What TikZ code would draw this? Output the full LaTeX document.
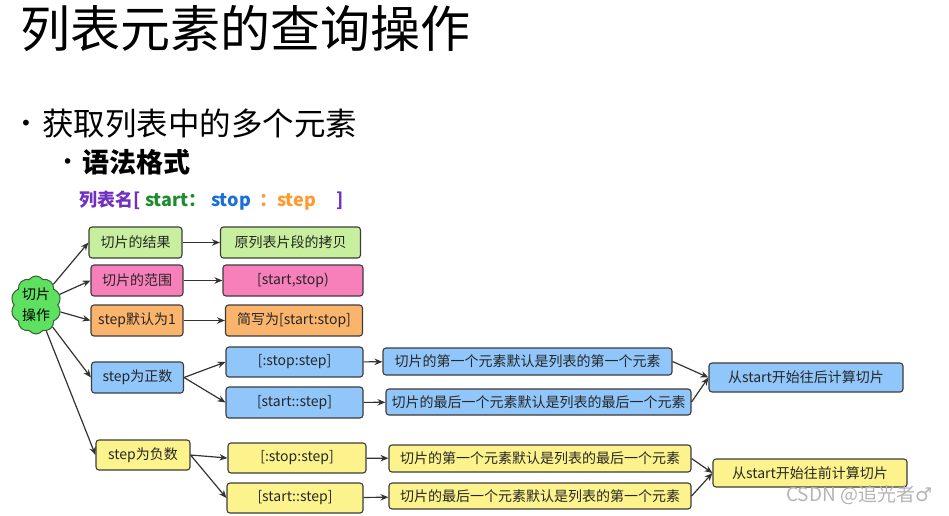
\documentclass[tikz,border=0pt]{standalone}
\usepackage{fontspec}
\setmainfont{Noto Sans CJK SC}
\newfontfamily\symfont{DejaVu Sans}
\usetikzlibrary{arrows.meta,shapes.symbols}
\definecolor{cgreen}{HTML}{C8EF9E}
\definecolor{cpink}{HTML}{F77FBA}
\definecolor{corange}{HTML}{FBB46C}
\definecolor{cblue}{HTML}{90C6FA}
\definecolor{cyellow}{HTML}{FDF38C}
\definecolor{ccloud}{HTML}{5EE060}
\definecolor{edge}{HTML}{3C3C3C}
\definecolor{tpurple}{HTML}{7030C0}
\definecolor{tgreen}{HTML}{1E8C2E}
\definecolor{tblue}{HTML}{1A6FD4}
\definecolor{torange}{HTML}{FF9A30}
\definecolor{wm}{HTML}{B4B4B4}
\tikzset{
  box/.style={draw=edge, line width=1.1pt, rounded corners=3pt, inner sep=0pt,
    font=\fontsize{14}{16}\selectfont, text=black!85},
  arr/.style={draw=black!80, line width=1.2pt, -{Stealth[length=8pt,width=6.5pt]}},
  txt/.style={inner sep=0pt, anchor=west},
  syn/.style={inner sep=0pt, anchor=base west, font=\fontsize{18}{20}\selectfont\bfseries}
}
\begin{document}
\begin{tikzpicture}[x=1pt,y=-1pt]
\useasboundingbox (0,0) rectangle (949,515);
% headings
\node[txt] (title) at (20,29) {\fontsize{50}{56}\selectfont 列表元素的查询操作};
\node[txt] (b1) at (20,125) {\fontsize{20}{24}\selectfont\symfont •};
\node[txt] (l1) at (42,124) {\fontsize{31.5}{36}\selectfont 获取列表中的多个元素};
\node[txt] (b2) at (62,164) {\fontsize{19}{22}\selectfont\symfont •};
\node[txt] (l2) at (82,162) {\fontsize{27}{32}\selectfont\bfseries 语法格式};
\node[syn, text=tpurple] (s1) at (79,206) {列表名[};
\node[syn, text=tgreen] (s2) at (145,206) {start：};
\node[syn, text=tblue] (s3) at (211,206) {stop};
\node[syn, text=torange] (s4) at (259,206) {：step};
\node[syn, text=tpurple] (s5) at (336,206) {]};
% cloud
\node[cloud, cloud puffs=10, cloud puff arc=110, aspect=0.85, draw=edge!80!green, line width=1pt,
  fill=ccloud, minimum width=50pt, minimum height=58pt, inner sep=0pt,
  align=center, font=\fontsize{14}{21}\selectfont] (cl) at (36,305) {切片\\操作};
% first three rows
\node[box, fill=cgreen, minimum width=93pt, minimum height=31pt] (r1) at (135.5,242.5) {切片的结果};
\node[box, fill=cgreen, minimum width=140pt, minimum height=31pt] (r1b) at (290.5,242.5) {原列表片段的拷贝};
\node[box, fill=cpink, minimum width=92pt, minimum height=31pt] (r2) at (137,280.5) {切片的范围};
\node[box, fill=cpink, minimum width=140pt, minimum height=31pt] (r2b) at (293,280.5) {[start,stop)};
\node[box, fill=corange, minimum width=92pt, minimum height=31pt] (r3) at (137,320.5) {step默认为1};
\node[box, fill=corange, minimum width=137pt, minimum height=31pt] (r3b) at (294,320.5) {简写为[start:stop]};
% positive
\node[box, fill=cblue, minimum width=92pt, minimum height=31pt] (pos) at (137.5,377.5) {step为正数};
\node[box, fill=cblue, minimum width=137pt, minimum height=30pt] (pos1) at (294.5,362) {[:stop:step]};
\node[box, fill=cblue, minimum width=137pt, minimum height=31pt] (pos2) at (294.5,402.5) {[start::step]};
\node[box, fill=cblue, minimum width=289pt, minimum height=27pt] (posL1) at (527.5,361.5) {切片的第一个元素默认是列表的第一个元素};
\node[box, fill=cblue, minimum width=305pt, minimum height=26pt] (posL2) at (538.5,402) {切片的最后一个元素默认是列表的最后一个元素};
\node[box, fill=cblue, minimum width=194pt, minimum height=29pt] (posR) at (806,377.5) {从start开始往后计算切片};
% negative
\node[box, fill=cyellow, minimum width=94pt, minimum height=30pt] (neg) at (143,455) {step为负数};
\node[box, fill=cyellow, minimum width=138pt, minimum height=30pt] (neg1) at (297,458) {[:stop:step]};
\node[box, fill=cyellow, minimum width=136pt, minimum height=30pt] (neg2) at (295,498) {[start::step]};
\node[box, fill=cyellow, minimum width=302pt, minimum height=27pt] (negL1) at (540,458.5) {切片的第一个元素默认是列表的最后一个元素};
\node[box, fill=cyellow, minimum width=302pt, minimum height=26pt] (negL2) at (540,496) {切片的最后一个元素默认是列表的第一个元素};
\node[box, fill=cyellow, minimum width=194pt, minimum height=28pt] (negR) at (810,473) {从start开始往前计算切片};
% watermark
\node[txt, text=wm] (wmk) at (786,495) {\fontsize{19}{21}\selectfont CSDN @追光者{\symfont ♂}};
% connectors
\draw[arr] (cl) -- (r1.west);
\draw[arr] (cl) -- (r2.west);
\draw[arr] (cl) -- (r3.west);
\draw[arr] (cl) -- (pos.west);
\draw[arr] (cl) -- (neg.west);
\draw[arr] (r1) -- (r1b);
\draw[arr] (r2) -- (r2b);
\draw[arr] (r3) -- (r3b);
\draw[arr] (pos.east) -- (pos1.west);
\draw[arr] (pos.east) -- (pos2.west);
\draw[arr] (pos1) -- (posL1);
\draw[arr] (pos2) -- (posL2);
\draw[arr] (posL1.east) -- (posR.west);
\draw[arr] (posL2.east) -- (posR.west);
\draw[arr] (neg.east) -- (neg1.west);
\draw[arr] (neg.east) -- (neg2.west);
\draw[arr] (neg1) -- (negL1);
\draw[arr] (neg2) -- (negL2);
\draw[arr] (negL1.east) -- (negR.west);
\draw[arr] (negL2.east) -- (negR.west);
\end{tikzpicture}
\end{document}
